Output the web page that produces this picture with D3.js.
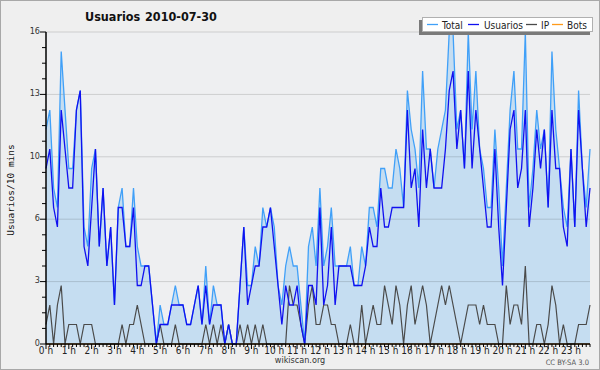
<!DOCTYPE html>
<html><head><meta charset="utf-8">
<script src="https://cdn.jsdelivr.net/npm/d3@7/dist/d3.min.js"></script>
<style>
body{margin:0;background:#efefef;}
svg{display:block;}
.cond{font-family:"DejaVu Sans Condensed","DejaVu Sans",sans-serif;font-stretch:condensed;}
</style></head>
<body><svg id="c" width="600" height="370"></svg>
<script>
const title = "Usuarios";
const dateLabel = "2010-07-30";
const yAxisLabel = "Usuarios/10 mins";
const seriesNames = ["Total", "Usuarios", "IP", "Bots"];
const hourLabels = d3.range(24).map(h => h + " h");
const yTickValues = [0, 3.2, 6.4, 9.6, 12.8, 16];
// 144 ten-minute slots (0:00 .. 23:50)
const total = [11,12,8,7,15,12,9,9,12,13,6,5,9,10,5,8,4,6,2,7,8,5,5,8,5,4,4,4,2,0,
 2,1,1,2,3,2,2,1,1,2,3,1,4,1,3,2,2,0,1,0,0,3,6,3,3,5,4,7,6,7,
 6,3,2,4,5,4,4,2,0,5,6,4,8,4,5,7,4,4,4,4,5,3,3,5,4,7,7,6,9,9,
 8,8,10,9,7,13,11,10,8,14,10,10,8,10,11,12,16,16,11,12,9,16,11,14,10,9,7,7,11,8,
 4,8,12,14,10,10,16,7,9,12,10,11,7,15,11,9,7,6,10,6,13,9,7,10];
const usuarios = [9,10,7,6,12,10,8,8,12,13,5,4,7,10,5,8,4,6,2,7,7,5,5,7,3,3,4,4,2,0,
 1,1,1,2,2,2,2,1,1,2,3,1,3,1,2,2,2,0,1,0,0,3,6,2,3,4,4,6,6,7,
 5,3,1,3,2,2,3,1,0,3,3,2,7,2,3,6,2,4,4,4,4,3,3,3,4,6,5,5,8,6,
 6,7,7,7,7,12,8,9,6,11,8,10,8,8,8,10,13,14,10,12,9,14,9,12,10,8,6,6,10,6,
 3,7,11,12,8,9,12,6,8,11,9,11,7,12,9,9,6,5,10,6,12,9,6,8];
const ip = [1,2,0,2,3,0,1,1,1,0,1,1,1,0,0,0,0,0,0,0,1,0,1,1,2,1,0,0,0,0,
 1,0,0,0,1,0,0,0,0,0,0,0,1,0,1,0,1,0,1,0,0,1,0,1,0,1,0,1,0,0,
 0,0,0,0,3,2,2,1,0,2,3,1,1,2,2,1,1,0,0,0,1,0,0,2,0,1,2,1,1,3,
 2,1,3,2,0,2,3,1,2,3,2,0,1,2,3,2,3,2,1,0,1,2,2,2,1,2,1,1,1,0,
 0,3,1,2,2,1,4,0,0,1,1,0,1,3,2,0,1,0,0,0,1,1,1,2];
const bots = new Array(144).fill(0);
const colors = {Total:"#40a0f8", Usuarios:"#1010f0", IP:"#4a4a4a", Bots:"#ff9a1a"};

const svg = d3.select("#c");
const W = 600, H = 370;
svg.append("rect").attr("x",0.5).attr("y",0.5).attr("width",W-1).attr("height",H-1)
  .attr("fill","#efefef").attr("stroke","#a8a8a8").attr("stroke-width",1);

const x = d3.scaleLinear().domain([0,143]).range([46,590]);
const y = d3.scaleLinear().domain([0,16]).range([344,32]);

svg.append("rect").attr("x",x(0)).attr("y",y(16)).attr("width",x(143)-x(0)).attr("height",y(0)-y(16))
  .attr("fill","#eeeff1");

const idx = d3.range(144);
svg.append("path").datum(idx)
  .attr("d", d3.area().x(i=>x(i)).y0(y(0)).y1(i=>y(total[i])))
  .attr("fill","#c5ddf1");

svg.append("g").selectAll("line").data(yTickValues.slice(1)).join("line")
  .attr("x1",x(0)).attr("x2",x(143)).attr("y1",d=>y(d)).attr("y2",d=>y(d))
  .attr("stroke","#000").attr("stroke-opacity",0.14).attr("stroke-width",1);

const line = arr => d3.line().x(i=>x(i)).y(i=>y(arr[i]))(idx);
svg.append("path").attr("d",line(bots)).attr("fill","none").attr("stroke",colors.Bots).attr("stroke-width",1.2);
svg.append("path").attr("d",line(ip)).attr("fill","none").attr("stroke",colors.IP).attr("stroke-width",1.2);
svg.append("path").attr("d",line(total)).attr("fill","none").attr("stroke",colors.Total).attr("stroke-width",1.3);
svg.append("path").attr("d",line(usuarios)).attr("fill","none").attr("stroke",colors.Usuarios).attr("stroke-width",1.3);

// y axis
const yMinor = d3.range(0,16.01,0.8);
const gy = svg.append("g");
gy.append("line").attr("x1",46).attr("x2",46).attr("y1",y(16)).attr("y2",y(0)).attr("stroke","#000").attr("stroke-width",1.5);
gy.selectAll("line.t").data(yMinor).join("line").attr("class","t")
  .attr("x1",d=> (Math.abs(d/3.2-Math.round(d/3.2))<1e-6)?40:42).attr("x2",46)
  .attr("y1",d=>y(d)).attr("y2",d=>y(d)).attr("stroke","#000").attr("stroke-width",1);
gy.selectAll("text").data(yTickValues).join("text")
  .attr("class","cond").attr("x",40).attr("y",d=>y(d)+1.8).attr("text-anchor","end")
  .attr("font-size",9).attr("fill","#333").text(d=>Math.round(d));

// x axis
const gx = svg.append("g");
gx.append("line").attr("x1",x(0)).attr("x2",x(143)).attr("y1",344).attr("y2",344).attr("stroke","#000").attr("stroke-width",1.5);
gx.selectAll("line.t").data(idx).join("line").attr("class","t")
  .attr("x1",i=>x(i)).attr("x2",i=>x(i)).attr("y1",344).attr("y2",i=> i%6===0?349:347)
  .attr("stroke","#000").attr("stroke-width",1);
gx.selectAll("text").data(hourLabels).join("text")
  .attr("class","cond").attr("x",(d,h)=>x(h*6)).attr("y",353.5).attr("text-anchor","middle")
  .attr("font-size",10).attr("fill","#222").text(d=>d);

// y label
svg.append("text").attr("transform","translate(14,190) rotate(-90)").attr("text-anchor","middle")
  .attr("font-family","DejaVu Sans Mono, monospace").attr("font-size",9.5).attr("fill","#111").text(yAxisLabel);

// title
const tt = svg.append("text").attr("class","cond").attr("y",21).attr("font-size",12.5).attr("font-weight","bold").attr("fill","#111");
tt.append("tspan").attr("x",85).text(title);
tt.append("tspan").attr("x",145).text(dateLabel);

// legend
const lg = svg.append("g");
lg.append("rect").attr("x",419).attr("y",20).attr("width",171).attr("height",15).attr("fill","#7a7a7a");
lg.append("rect").attr("x",422.5).attr("y",17.5).attr("width",170).attr("height",14).attr("fill","#fff").attr("stroke","#b0b0b0");
const legendPos = [{lx:427,tx:442},{lx:468,tx:484},{lx:526,tx:541},{lx:552,tx:567}];
seriesNames.forEach((n,k)=>{
  const p = legendPos[k];
  lg.append("line").attr("x1",p.lx).attr("x2",p.lx+11).attr("y1",24.5).attr("y2",24.5).attr("stroke",colors[n]).attr("stroke-width",1.3);
  lg.append("text").attr("class","cond").attr("x",p.tx).attr("y",28.5).attr("font-size",10).attr("fill","#222").text(n);
});

// footer
svg.append("text").attr("class","cond").attr("x",300).attr("y",363).attr("text-anchor","middle").attr("font-size",9).attr("fill","#333").text("wikiscan.org");
svg.append("text").attr("class","cond").attr("x",589).attr("y",365).attr("text-anchor","end").attr("font-size",7.5).attr("fill","#555").text("CC BY-SA 3.0");
</script></body></html>
